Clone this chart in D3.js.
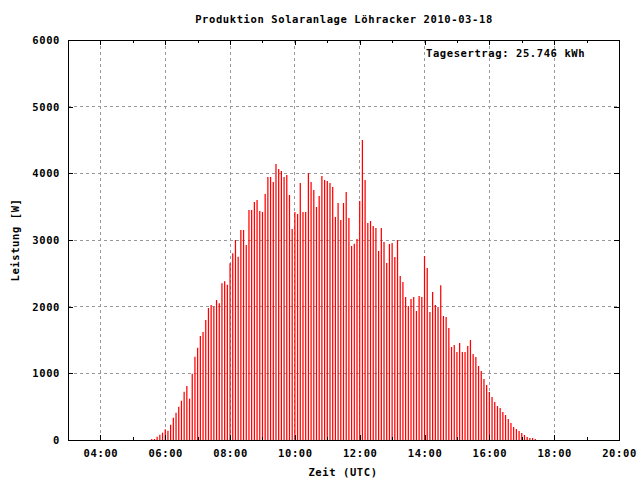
<!DOCTYPE html>
<html>
<head>
<meta charset="utf-8">
<script src="https://cdn.jsdelivr.net/npm/d3@7"></script>
<style>
  html, body { margin: 0; padding: 0; background: #fff; }
  svg text { font-family: "DejaVu Sans Mono", "Liberation Mono", monospace; font-weight: bold; font-size: 10.5px; letter-spacing: 0.6px; fill: #000; }
</style>
</head>
<body>
<svg id="chart" width="640" height="480"></svg>
<script>
const titleText = "Produktion Solaranlage Löhracker 2010-03-18";
const xLabelText = "Zeit (UTC)";
const yLabelText = "Leistung [W]";
const dailyYieldText = "Tagesertrag: 25.746 kWh";

const times = [
  "05:35","05:40","05:45","05:50","05:55",
  "06:00","06:05","06:10","06:15","06:20","06:25","06:30","06:35","06:40","06:45","06:50","06:55",
  "07:00","07:05","07:10","07:15","07:20","07:25","07:30","07:35","07:40","07:45","07:50","07:55",
  "08:00","08:05","08:10","08:15","08:20","08:25","08:30","08:35","08:40","08:45","08:50","08:55",
  "09:00","09:05","09:10","09:15","09:20","09:25","09:30","09:35","09:40","09:45","09:50","09:55",
  "10:00","10:05","10:10","10:15","10:20","10:25","10:30","10:35","10:40","10:45","10:50","10:55",
  "11:00","11:05","11:10","11:15","11:20","11:25","11:30","11:35","11:40","11:45","11:50","11:55",
  "12:00","12:05","12:10","12:15","12:20","12:25","12:30","12:35","12:40","12:45","12:50","12:55",
  "13:00","13:05","13:10","13:15","13:20","13:25","13:30","13:35","13:40","13:45","13:50","13:55",
  "14:00","14:05","14:10","14:15","14:20","14:25","14:30","14:35","14:40","14:45","14:50","14:55",
  "15:00","15:05","15:10","15:15","15:20","15:25","15:30","15:35","15:40","15:45","15:50","15:55",
  "16:00","16:05","16:10","16:15","16:20","16:25","16:30","16:35","16:40","16:45","16:50","16:55",
  "17:00","17:05","17:10","17:15","17:20","17:25"
];

const power = [
  15, 15, 50, 80, 110,
  160, 140, 230, 335, 410, 500, 590, 725, 810, 620, 995, 1250,
  1385, 1560, 1620, 1800, 1980, 2025, 2000, 2100, 2050, 2350, 2380, 2330,
  2650, 2800, 3000, 2750, 3150, 3150, 2925, 3450, 3450, 3570, 3600, 3435,
  3420, 3690, 3945, 3945, 3870, 4140, 4065, 4035, 3945, 3975, 3675, 3165,
  3420, 3390, 3855, 3420, 3420, 4005, 3870, 3750, 3495, 3660, 3960, 3900,
  3885, 3855, 3795, 3345, 3555, 3300, 3555, 3720, 3330, 2910, 2945, 3015,
  3585, 4500, 3900, 3255, 3285, 3210, 3180, 2835, 3180, 2970, 2655, 2940,
  2955, 2745, 3000, 2460, 2370, 2145, 2010, 2115, 2145, 1935, 2160, 2145,
  2760, 2580, 1920, 2220, 2025, 1995, 2320, 1860, 1845, 1680, 1395, 1425,
  1320, 1455, 1320, 1320, 1410, 1500, 1290, 1245, 1110, 1035, 915, 825,
  720, 645, 570, 510, 480, 420, 375, 315, 255, 195, 165, 135,
  105, 75, 45, 30, 30, 15
];

const xDomain = ["03:00", "20:00"];
const xTickLabels = ["04:00","06:00","08:00","10:00","12:00","14:00","16:00","18:00","20:00"];
const xMinorTickLabels = ["05:00","07:00","09:00","11:00","13:00","15:00","17:00","19:00"];
const yDomain = [0, 6000];
const yTickValues = [0, 1000, 2000, 3000, 4000, 5000, 6000];

const toMin = s => { const [h, m] = s.split(":").map(Number); return h * 60 + m; };
const fmt = m => d3.format("02d")(Math.floor(m / 60)) + ":" + d3.format("02d")(m % 60);

const L = 68, R = 619, T = 40, B = 440;
const svg = d3.select("#chart");
const x = d3.scaleLinear().domain(xDomain.map(toMin)).range([L, R]);
const y = d3.scaleLinear().domain(yDomain).range([B, T]);

// grid
const gridX = xTickLabels.map(toMin).filter(v => v < toMin(xDomain[1]));
svg.append("g").selectAll("line").data(gridX).join("line")
  .attr("x1", d => x(d)).attr("x2", d => x(d)).attr("y1", T).attr("y2", B)
  .attr("stroke", "#999").attr("stroke-width", 1).attr("stroke-dasharray", "3,3")
  .attr("shape-rendering", "crispEdges");
svg.append("g").selectAll("line").data(yTickValues.filter(v => v > yDomain[0] && v < yDomain[1])).join("line")
  .attr("x1", L).attr("x2", R).attr("y1", d => y(d)).attr("y2", d => y(d))
  .attr("stroke", "#999").attr("stroke-width", 1).attr("stroke-dasharray", "3,3")
  .attr("shape-rendering", "crispEdges");

// bars (impulses)
svg.append("g").selectAll("line").data(times.map((t, i) => ({ t: toMin(t), v: power[i] }))).join("line")
  .attr("x1", d => x(d.t)).attr("x2", d => x(d.t))
  .attr("y1", y(0)).attr("y2", d => y(d.v))
  .attr("stroke", "#ff0000").attr("stroke-width", 1.25);

// axes
const styleAxis = g => { g.select(".domain").remove(); g.selectAll("line").attr("stroke", "#000").attr("shape-rendering", "crispEdges"); };

svg.append("g").attr("transform", `translate(0,${B})`)
  .call(d3.axisBottom(x).tickValues(xTickLabels.map(toMin)).tickFormat(fmt).tickSize(-5).tickPadding(10))
  .call(styleAxis)
  .call(g => g.selectAll("text").attr("font-family", null).attr("font-size", null));
svg.append("g").attr("transform", `translate(0,${B})`)
  .call(d3.axisBottom(x).tickValues(xMinorTickLabels.map(toMin)).tickFormat("").tickSize(-3))
  .call(styleAxis);
svg.append("g").attr("transform", `translate(0,${T})`)
  .call(d3.axisTop(x).tickValues(xTickLabels.map(toMin)).tickFormat("").tickSize(-5))
  .call(styleAxis);
svg.append("g").attr("transform", `translate(0,${T})`)
  .call(d3.axisTop(x).tickValues(xMinorTickLabels.map(toMin)).tickFormat("").tickSize(-3))
  .call(styleAxis);
svg.append("g").attr("transform", `translate(${L},0)`)
  .call(d3.axisLeft(y).tickValues(yTickValues).tickFormat(d3.format("d")).tickSize(-5).tickPadding(8))
  .call(styleAxis)
  .call(g => g.selectAll("text").attr("font-family", null).attr("font-size", null));
svg.append("g").attr("transform", `translate(${R},0)`)
  .call(d3.axisRight(y).tickValues(yTickValues).tickFormat("").tickSize(-5))
  .call(styleAxis);

// frame
svg.append("rect").attr("x", L + 0.5).attr("y", T + 0.5).attr("width", R - L).attr("height", B - T)
  .attr("fill", "none").attr("stroke", "#000").attr("stroke-width", 1);

// texts
svg.append("text").attr("x", 344).attr("y", 23).attr("text-anchor", "middle").text(titleText);
svg.append("text").attr("x", 343).attr("y", 476).attr("text-anchor", "middle").text(xLabelText);
svg.append("text").attr("transform", "translate(19,240) rotate(-90)").attr("text-anchor", "middle").text(yLabelText);
svg.append("text").attr("x", 426).attr("y", 57).text(dailyYieldText);
</script>
</body>
</html>
